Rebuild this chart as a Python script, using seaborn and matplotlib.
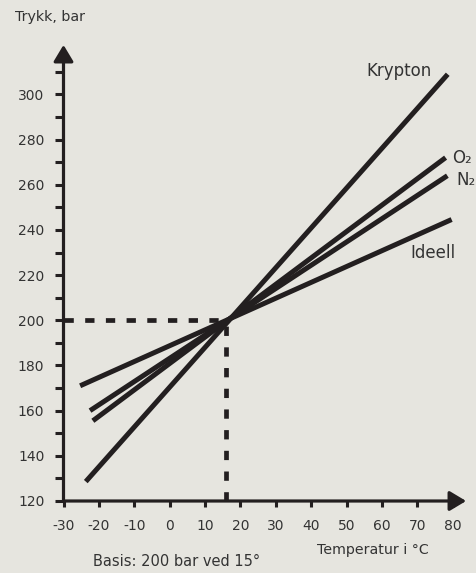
import pandas as pd
import seaborn as sns
import matplotlib.pyplot as plt

# gas lines: start and end points
gases = ['Krypton', 'O₂', 'N₂', 'Ideell']
t_start = [-23.7, -21.7, -22.5, -25.3]
p_start = [128.6, 155.5, 160.0, 171.0]
t_end = [78.6, 78.0, 78.5, 79.7]
p_end = [308.9, 272.0, 264.0, 244.6]

basis_t = 16
basis_p = 200

x_ticks = list(range(-30, 90, 10))
y_major = list(range(120, 320, 20))
y_minor = list(range(130, 320, 20))

df = pd.DataFrame({
    'gas': gases * 2,
    'temp': t_start + t_end,
    'pressure': p_start + p_end,
})

ink = '#231f20'
txt = '#333333'
bg = '#e6e5df'

sns.set_style('white')
plt.rcParams['font.family'] = ['DejaVu Sans']
plt.rcParams['lines.scale_dashes'] = False
plt.rcParams['axes.unicode_minus'] = False

fig = plt.figure(figsize=(4.77, 5.73), dpi=100, facecolor=bg)
ax = fig.add_axes([63.5 / 477, 72 / 573, 410.4 / 477, 463.1 / 573])
ax.set_facecolor(bg)

sns.lineplot(data=df, x='temp', y='pressure', hue='gas', units='gas', estimator=None,
             palette={g: ink for g in gases}, linewidth=3.6, legend=False, ax=ax,
             solid_capstyle='butt')

# basis reference lines
ax.plot([x_ticks[0], basis_t], [basis_p, basis_p], color=ink, lw=3.4, dashes=(6.7, 8.2))
ax.plot([basis_t, basis_t], [y_major[0], basis_p], color=ink, lw=3.4, dashes=(6.7, 8.2))

ax.set_xlim(-30, 86)
ax.set_ylim(120, 325)

for s in ax.spines.values():
    s.set_visible(False)

# axes with arrow heads
arrow = dict(arrowstyle='-|>,head_length=1.0,head_width=0.6', color=ink, lw=2.3,
             shrinkA=0, shrinkB=0, mutation_scale=10)
ax.annotate('', xy=(83.8, 120), xytext=(-30, 120), arrowprops=arrow, annotation_clip=False)
ax.annotate('', xy=(-30, 321.9), xytext=(-30, 120), arrowprops=arrow, annotation_clip=False)

ax.set_xticks(x_ticks)
ax.set_yticks(y_major)
ax.set_yticks(y_minor, minor=True)
ax.tick_params(axis='x', bottom=True, direction='out', length=4.3, width=2.2, color=ink,
               labelsize=10, labelcolor=txt, pad=8.5)
ax.tick_params(axis='y', which='both', left=True, direction='out', length=5.8, width=2.2,
               color=ink, labelsize=10, labelcolor=txt, pad=8)
ax.set_xlabel('')
ax.set_ylabel('')

# line labels near the right ends
offsets = {
    'Krypton': (-35, 2.4, 'center'),
    'O₂': (4.5, 0, 'left'),
    'N₂': (6.5, -3, 'left'),
    'Ideell': (-13.5, -24, 'center'),
}
for g, te, pe in zip(gases, t_end, p_end):
    dx, dy, ha = offsets[g]
    ax.annotate(g, xy=(te, pe), xytext=(dx, dy), textcoords='offset points',
                ha=ha, va='center', fontsize=12, color=txt, annotation_clip=False)

fig.text(15 / 477, 1 - 17 / 573, 'Trykk, bar', ha='left', va='center', fontsize=10.3, color=txt)
fig.text(373 / 477, 1 - 550 / 573, 'Temperatur i °C', ha='center', va='center', fontsize=10.2, color=txt)
fig.text(177 / 477, 1 - 561 / 573, 'Basis: 200 bar ved 15°', ha='center', va='center', fontsize=10.5, color=txt)

fig.savefig('out.png', dpi=100, facecolor=bg)
